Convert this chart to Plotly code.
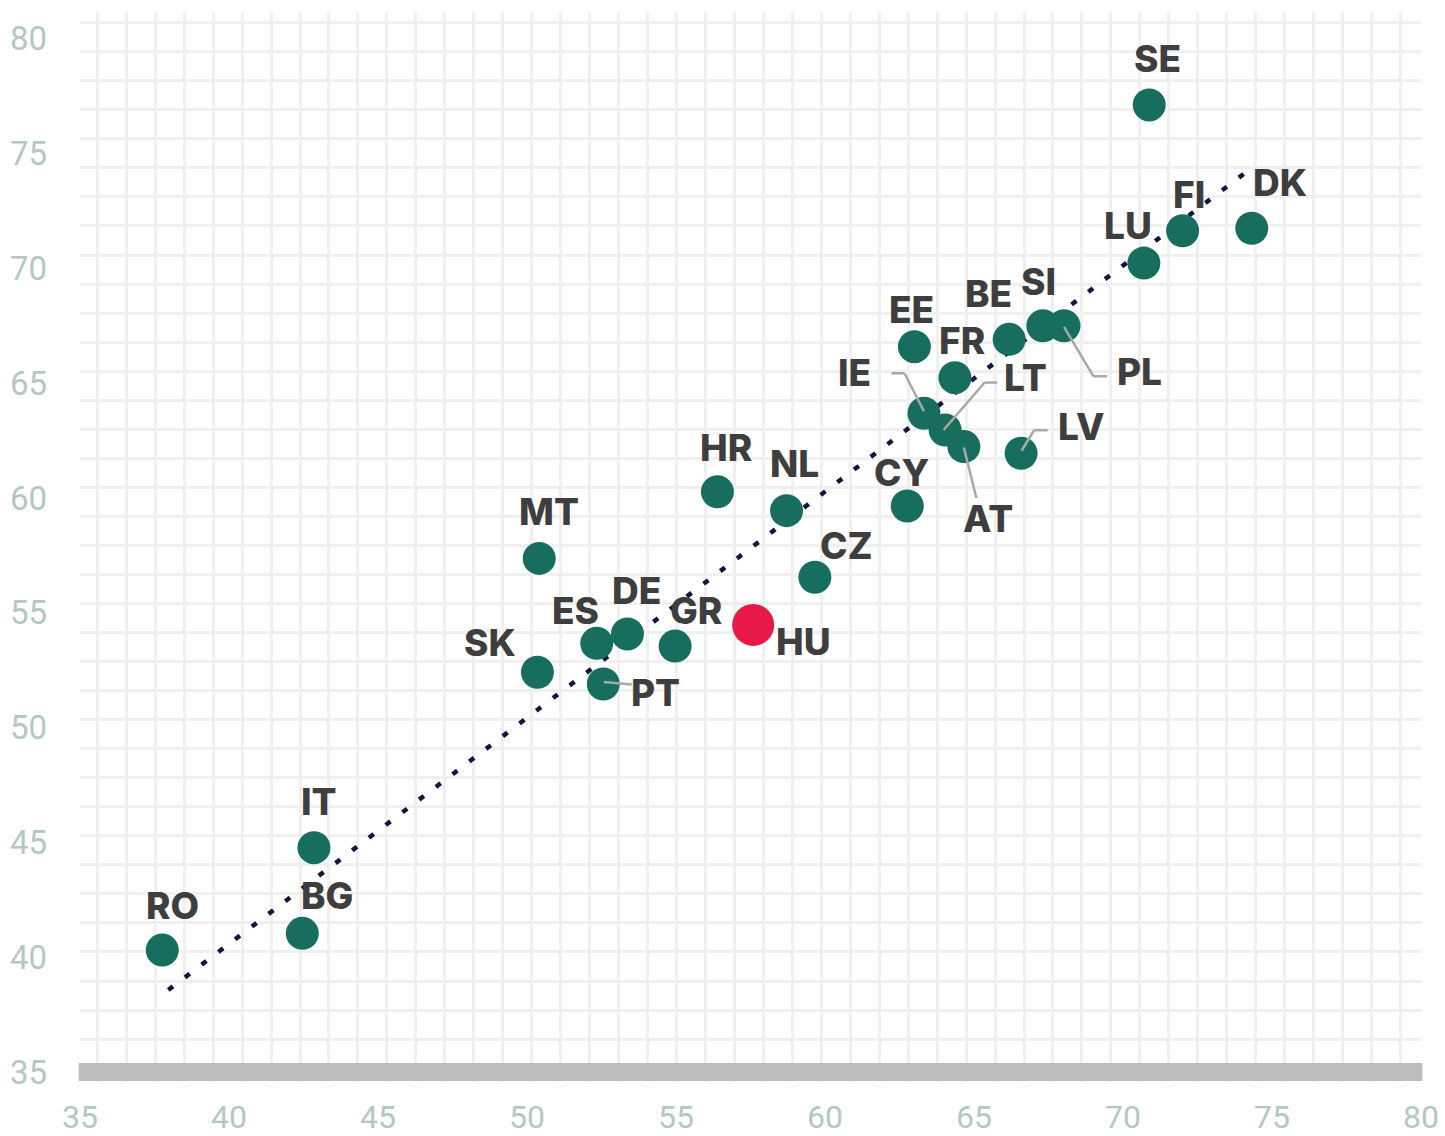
import plotly.graph_objects as go

# ---------------- data ----------------
countries = ["SE", "DK", "FI", "LU", "SI", "PL", "BE", "EE", "FR", "IE", "LT", "AT", "LV", "CY",
             "CZ", "NL", "HR", "MT", "HU", "GR", "DE", "ES", "PT", "SK", "IT", "BG", "RO"]
x_vals = [70.88, 74.32, 72.00, 70.70, 67.31, 68.02, 66.18, 63.00, 64.36, 63.32, 64.03, 64.66, 66.58, 62.76,
          59.66, 58.71, 56.39, 50.41, 57.59, 54.97, 53.37, 52.34, 52.56, 50.35, 42.85, 42.46, 37.76]
y_vals = [77.12, 71.75, 71.64, 70.23, 67.50, 67.50, 66.91, 66.59, 65.24, 63.69, 62.96, 62.24, 61.95, 59.65,
          56.55, 59.45, 60.27, 57.37, 54.47, 53.55, 54.08, 53.67, 51.90, 52.41, 44.77, 41.04, 40.31]
highlight = "HU"
trend_x = [37.96, 74.34]
trend_y = [38.57, 74.40]
x_ticks = [35, 40, 45, 50, 55, 60, 65, 70, 75, 80]
y_ticks = [35, 40, 45, 50, 55, 60, 65, 70, 75, 80]

# ---------------- layout / style ----------------
W, H = 1445, 1136
ML, MR, MT, MB = 80, 24, 12, 54
PLOT_W, PLOT_H = W - ML - MR, H - MT - MB
Y35_PX = 1072 - MT          # pixel row (inside plot) of y = 35
PX_PER_Y = 22.96
y_range = [35 - (PLOT_H - Y35_PX) / PX_PER_Y, 35 + Y35_PX / PX_PER_Y]

TEAL = "#176e5f"
RED = "#e8194a"
LABEL_COLOR = "#3e3e3e"
TICK_COLOR = "#b3c8c5"
GRID_COLOR = "#f0f0f0"
LEADER_COLOR = "#a8a8a8"
TREND_COLOR = "#16143d"
LABEL_FONT = dict(family="Inter", size=37, color=LABEL_COLOR, weight=800)

# label offsets in screen pixels relative to point centre (dx right, dy down)
LABEL_OFFSETS = {
    "SE": (8, -46), "DK": (28, -46), "FI": (6, -36), "LU": (-16, -38), "SI": (-4, -44),
    "PL": (75, 46), "BE": (-21, -46), "EE": (-3, -37), "FR": (7, -37), "IE": (-69, -41),
    "LT": (80, -53), "AT": (24, 72), "LV": (60, -27), "CY": (-6, -34), "CZ": (32, -32),
    "NL": (8, -47), "HR": (9, -44), "MT": (10, -47), "HU": (50, 17), "GR": (21, -36),
    "DE": (9, -43), "ES": (-21, -33), "PT": (52, 9), "SK": (-47, -30), "IT": (5, -46),
    "BG": (25, -38), "RO": (10, -45),
}
# leader polylines in screen pixels relative to point centre
LEADERS = {
    "IE": [(0, -2), (-19.5, -40), (-32.5, -40)],
    "LT": [(-1.5, 0), (39.5, -47.5), (52, -47.5)],
    "PL": [(0, 1), (29.5, 50.5), (43, 50.5)],
    "AT": [(0, 1), (12.5, 51.5)],
    "LV": [(0.5, -2.5), (13, -23), (26.5, -23)],
    "PT": [(0.5, -2), (28.5, 0.5)],
}

fig = go.Figure()

# helper axes (pixel units) that carry the square background grid
fig.add_trace(go.Scatter(x=[], y=[], xaxis="x2", yaxis="y2", showlegend=False, hoverinfo="skip"))

# dotted trend line
fig.add_trace(go.Scatter(x=trend_x, y=trend_y, mode="lines", showlegend=False, hoverinfo="skip",
                         line=dict(color=TREND_COLOR, width=4.5, dash="6px,15px")))

mask = [c != highlight for c in countries]
fig.add_trace(go.Scatter(
    x=[x for x, m in zip(x_vals, mask) if m], y=[y for y, m in zip(y_vals, mask) if m],
    text=[c for c, m in zip(countries, mask) if m],
    mode="markers", showlegend=False,
    marker=dict(size=33, color=TEAL, line=dict(width=0))))
fig.add_trace(go.Scatter(
    x=[x for x, m in zip(x_vals, mask) if not m], y=[y for y, m in zip(y_vals, mask) if not m],
    text=[c for c, m in zip(countries, mask) if not m],
    mode="markers", showlegend=False,
    marker=dict(size=42, color=RED, line=dict(width=0))))

shapes = []
# thick base bar at y = 35
shapes.append(dict(type="line", xref="paper", yref="y", x0=-0.001, x1=1.001, y0=35, y1=35,
                   line=dict(color="#bdbdbf", width=18), layer="above"))
for code, pts in LEADERS.items():
    i = countries.index(code)
    for (ax0, ay0), (ax1, ay1) in zip(pts[:-1], pts[1:]):
        shapes.append(dict(type="line", xref="x", yref="y", xsizemode="pixel", ysizemode="pixel",
                           xanchor=x_vals[i], yanchor=y_vals[i],
                           x0=ax0, y0=-ay0, x1=ax1, y1=-ay1,
                           line=dict(color=LEADER_COLOR, width=2.5), layer="above"))

annotations = []
for c, x, y in zip(countries, x_vals, y_vals):
    dx, dy = LABEL_OFFSETS[c]
    annotations.append(dict(x=x, y=y, xref="x", yref="y", text=c, showarrow=False,
                            xshift=dx, yshift=-dy, xanchor="center", yanchor="middle",
                            font=LABEL_FONT))

fig.update_layout(
    width=W, height=H, margin=dict(l=ML, r=MR, t=MT, b=MB),
    paper_bgcolor="white", plot_bgcolor="white",
    shapes=shapes, annotations=annotations,
    xaxis=dict(range=[35, 80], tickvals=x_ticks, showgrid=False, zeroline=False, showline=False,
               ticks="", ticklabelstandoff=13, automargin=False,
               tickfont=dict(family="Roboto", size=32, color=TICK_COLOR)),
    yaxis=dict(range=y_range, tickvals=y_ticks, showgrid=False, zeroline=False, showline=False,
               ticks="", ticklabelstandoff=32, automargin=False,
               tickfont=dict(family="Roboto", size=33, color=TICK_COLOR)),
    xaxis2=dict(overlaying="x", anchor="y2", range=[0, PLOT_W], tick0=97.3 - ML, dtick=28.96,
                showgrid=True, gridcolor=GRID_COLOR, gridwidth=3, showticklabels=False,
                zeroline=False, showline=False, ticks=""),
    yaxis2=dict(overlaying="y", anchor="x2", range=[PLOT_H, 0], tick0=22.7 - MT, dtick=29.04,
                showgrid=True, gridcolor=GRID_COLOR, gridwidth=3, showticklabels=False,
                zeroline=False, showline=False, ticks=""),
)

fig.write_html("out.html", config={"displayModeBar": False},
               post_script="document.body.style.margin='0px';document.body.style.overflow='hidden';")
